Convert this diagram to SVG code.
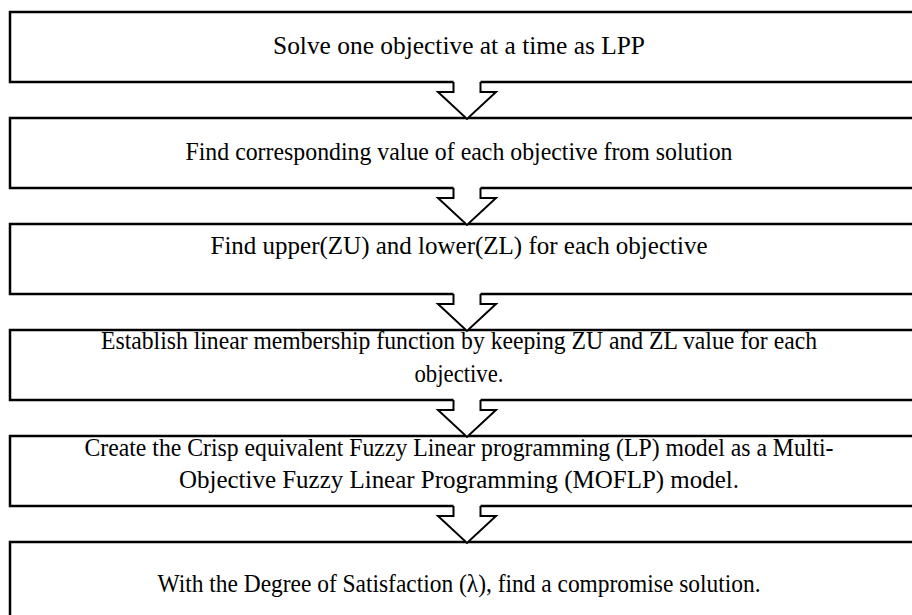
<svg xmlns="http://www.w3.org/2000/svg" width="912" height="615" viewBox="0 0 912 615">
  <defs>
    <style>
      .box { fill: #ffffff; stroke: #000000; stroke-width: 2.5; }
      .label { font-family: "Liberation Serif", "Times New Roman", serif; font-size: 26px; fill: #000000; text-anchor: middle; }
      .arrow-fill { fill: #ffffff; stroke: none; }
      .arrow-line { fill: none; stroke: #000000; stroke-width: 2; stroke-linejoin: miter; }
    </style>
    <!-- block arrow: open at the top so it merges with the box above -->
    <g id="blockArrow">
      <polygon class="arrow-fill" points="-13.5,-2 -13.5,10 -29,10 0,37 29,10 13.5,10 13.5,-2"/>
      <polyline class="arrow-line" points="-13.5,0 -13.5,10 -29,10 0,37 29,10 13.5,10 13.5,0"/>
    </g>
  </defs>

  <rect width="912" height="615" fill="#ffffff"/>

  <g id="step1">
    <rect class="box" x="10" y="12" width="920" height="70"/>
    <text class="label" x="459" y="54" textLength="372" lengthAdjust="spacingAndGlyphs">Solve one objective at a time as LPP</text>
  </g>

  <g id="step2">
    <rect class="box" x="10" y="118" width="920" height="70"/>
    <text class="label" x="459" y="160" textLength="547" lengthAdjust="spacingAndGlyphs">Find corresponding value of each objective from solution</text>
  </g>

  <g id="step3">
    <rect class="box" x="10" y="224" width="920" height="70"/>
    <text class="label" x="459" y="254" textLength="497" lengthAdjust="spacingAndGlyphs">Find upper(ZU) and lower(ZL) for each objective</text>
  </g>

  <g id="step4">
    <rect class="box" x="10" y="330" width="920" height="70"/>
    <text class="label" x="459" y="349" textLength="716" lengthAdjust="spacingAndGlyphs">Establish linear membership function by keeping ZU and ZL value for each</text>
    <text class="label" x="459" y="382" textLength="89" lengthAdjust="spacingAndGlyphs">objective.</text>
  </g>

  <g id="step5">
    <rect class="box" x="10" y="436" width="920" height="70"/>
    <text class="label" x="459" y="456" textLength="749" lengthAdjust="spacingAndGlyphs">Create the Crisp equivalent Fuzzy Linear programming (LP) model as a Multi-</text>
    <text class="label" x="459" y="488" textLength="560" lengthAdjust="spacingAndGlyphs">Objective Fuzzy Linear Programming (MOFLP) model.</text>
  </g>

  <g id="step6">
    <rect class="box" x="10" y="542" width="920" height="90"/>
    <text class="label" x="459" y="592" textLength="603" lengthAdjust="spacingAndGlyphs">With the Degree of Satisfaction (λ), find a compromise solution.</text>
  </g>

  <g id="connectors">
    <use href="#blockArrow" x="467" y="82"/>
    <use href="#blockArrow" x="467" y="188"/>
    <use href="#blockArrow" x="467" y="294"/>
    <use href="#blockArrow" x="467" y="400"/>
    <use href="#blockArrow" x="467" y="506"/>
  </g>
</svg>
